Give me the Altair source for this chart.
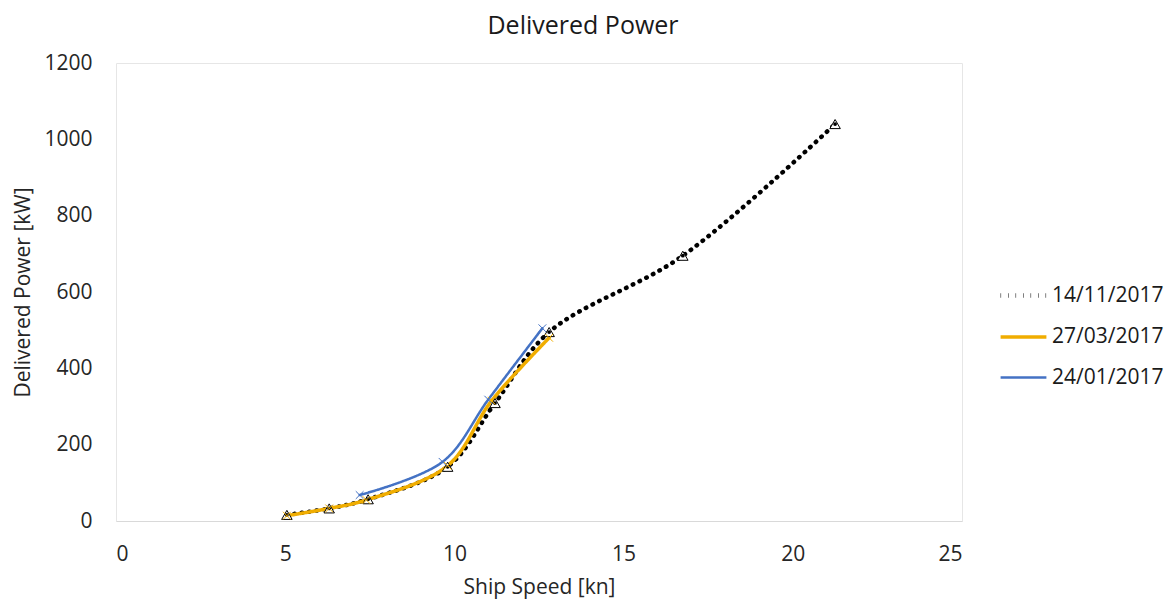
import altair as alt
import pandas as pd

series_names = ["14/11/2017", "27/03/2017", "24/01/2017"]
colors = ["#000000", "#F0AD00", "#4472C4"]

s1_speed = [5.05, 6.3, 7.45, 9.8, 11.2, 12.8, 16.75, 21.25]
s1_power = [16, 33, 57, 142, 309, 495, 695, 1040]
s2_speed = [5.05, 6.3, 7.4, 9.8, 11.1, 12.8]
s2_power = [14, 33, 55, 145, 315, 480]
s3_speed = [7.2, 9.65, 11.0, 12.6]
s3_power = [68, 155, 318, 505]

x_ticks = [0, 5, 10, 15, 20, 25]
y_ticks = [0, 200, 400, 600, 800, 1000, 1200]

rows = []
for name, xs, ys in [(series_names[0], s1_speed, s1_power),
                     (series_names[1], s2_speed, s2_power),
                     (series_names[2], s3_speed, s3_power)]:
    for i, (a, b) in enumerate(zip(xs, ys)):
        rows.append({"series": name, "speed": a, "power": b, "order": i})
df = pd.DataFrame(rows)

FONT = "Open Sans"
FS = 21

x = alt.X("speed:Q", scale=alt.Scale(domain=[0, 25], nice=False),
          axis=alt.Axis(title="Ship Speed [kn]", values=x_ticks, grid=False, ticks=False,
                        domainColor="#d9d9d9", labelPadding=22, titlePadding=12,
                        labelFontSize=FS, titleFontSize=FS, labelColor="#262626",
                        titleColor="#262626", titleFontWeight="normal",
                        labelFont=FONT, titleFont=FONT, format="d"))
y = alt.Y("power:Q", scale=alt.Scale(domain=[0, 1200], nice=False),
          axis=alt.Axis(title="Delivered Power [kW]", values=y_ticks, grid=False, ticks=False,
                        domain=False, labelPadding=24, titlePadding=10,
                        labelFontSize=FS, titleFontSize=FS, labelColor="#262626",
                        titleColor="#262626", titleFontWeight="normal",
                        labelFont=FONT, titleFont=FONT, format="d"))

color = alt.Color("series:N", scale=alt.Scale(domain=series_names, range=colors),
                  legend=alt.Legend(title=None, orient="none", legendX=882, legendY=207,
                                    labelFontSize=FS, labelColor="#1a1a1a", labelFont=FONT,
                                    symbolType="stroke", symbolSize=2100, symbolStrokeWidth=3,
                                    rowPadding=6, labelOffset=3))
dash = alt.StrokeDash("series:N", scale=alt.Scale(domain=series_names,
                                                  range=[[0.5, 7], [1, 0], [1, 0]]),
                      legend=None)

lines = alt.Chart(df).mark_line(interpolate="catmull-rom", strokeCap="round").encode(
    x=x, y=y, color=color, strokeDash=dash, order="order:O",
    strokeWidth=alt.StrokeWidth("series:N", scale=alt.Scale(domain=series_names, range=[4.5, 2.5, 2.5]), legend=None),
)

tri = alt.Chart(df[df.series == series_names[0]]).mark_point(
    shape="triangle-up", filled=True, fill="white", stroke="#000000", strokeWidth=1, size=110, opacity=1
).encode(x=x, y=y)

dots = alt.Chart(df[df.series == series_names[0]]).mark_point(
    shape="circle", filled=True, color="#000000", size=14, opacity=1
).encode(x=x, y=y)

crosses = alt.Chart(df[df.series != series_names[0]]).mark_point(
    shape="M-1,-1L1,1M-1,1L1,-1", strokeWidth=1, size=60, opacity=1
).encode(x=x, y=y, color=alt.Color("series:N", scale=alt.Scale(domain=series_names, range=colors), legend=None))

chart = alt.layer(lines, tri, dots, crosses).properties(
    width=846, height=458,
    title=alt.TitleParams("Delivered Power", fontSize=25, font=FONT, fontWeight="normal",
                          color="#1a1a1a", dx=44, offset=13),
    autosize=alt.AutoSizeParams(type="none"),
    padding={"left": 108, "top": 55, "right": 202, "bottom": 84},
).configure_view(stroke="#e6e6e6", strokeWidth=1)

chart.save("out.html", embed_options={"renderer": "svg", "actions": False})
